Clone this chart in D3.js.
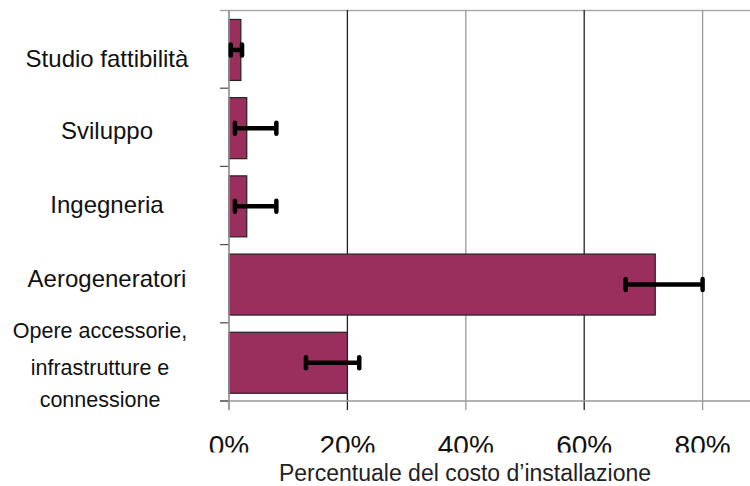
<!DOCTYPE html>
<html>
<head>
<meta charset="utf-8">
<script src="https://cdn.jsdelivr.net/npm/d3@7"></script>
<style>
  body { margin: 0; background: #fff; }
  svg { display: block; font-family: "Liberation Sans", Arial, sans-serif; }
</style>
</head>
<body>
<div id="chart"></div>
<script>

// data (percent of installation cost)
var categories = ["Studio fattibilità", "Sviluppo", "Ingegneria", "Aerogeneratori",
    "Opere accessorie, infrastrutture e connessione"];
var values  = [2, 3, 3, 72, 20];
var errLow  = [0.3, 1, 1, 67, 13];
var errHigh = [2.2, 8, 8, 80, 22];
var xTicks  = [0, 20, 40, 60, 80];
var xTickLabels = ["0%", "20%", "40%", "60%", "80%"];
var labelLines = [["Studio fattibilità"], ["Sviluppo"], ["Ingegneria"], ["Aerogeneratori"],
    ["Opere accessorie,", "infrastrutture e", "connessione"]];
var axisTitle = "Percentuale del costo d\u2019installazione";

var full_width = 750;
var full_height = 486;

var svg = d3.select("#chart")
    .append("svg")
    .attr("width", full_width)
    .attr("height", full_height);

// plot area runs past the right edge (the original picture is cropped)
var x = d3.scaleLinear().domain([0, 100]).range([229, 821]);
var y = d3.scaleBand().domain(categories).range([10, 401])
    .paddingInner(0.22).paddingOuter(0.11).align(0.55);

var gridColor = ["#999", "#222", "#999", "#222", "#999"];

// top border
svg.append("line")
    .attr("x1", 220).attr("x2", x(100))
    .attr("y1", y.range()[0] + 0.5).attr("y2", y.range()[0] + 0.5)
    .attr("stroke", "#aaa").attr("stroke-width", 1.5);

// vertical grid lines + x ticks
svg.selectAll(".grid")
    .data(xTicks)
    .enter().append("line")
    .attr("class", "grid")
    .attr("x1", function(d){ return x(d); })
    .attr("x2", function(d){ return x(d); })
    .attr("y1", y.range()[0])
    .attr("y2", y.range()[1] + 9)
    .attr("stroke", function(d, i){ return gridColor[i]; })
    .attr("stroke-width", 1.3);

// bottom axis line
svg.append("line")
    .attr("x1", 220).attr("x2", x(100))
    .attr("y1", y.range()[1]).attr("y2", y.range()[1])
    .attr("stroke", "#999").attr("stroke-width", 1.3);

// category boundary ticks on the left
var bounds = d3.range(categories.length + 1).map(function(i){ return y.range()[0] + i * y.step(); });
svg.selectAll(".ytick")
    .data(bounds.slice(1))
    .enter().append("line")
    .attr("x1", 220).attr("x2", x(0))
    .attr("y1", function(d){ return d; })
    .attr("y2", function(d){ return d; })
    .attr("stroke", "#555").attr("stroke-width", 1.3);

// bars
svg.selectAll(".bar")
    .data(values)
    .enter().append("rect")
    .attr("class", "bar")
    .attr("x", x(0))
    .attr("y", function(d, i){ return y(categories[i]); })
    .attr("width", function(d){ return x(d) - x(0); })
    .attr("height", y.bandwidth())
    .attr("fill", "#9a2f5d")
    .attr("stroke", "#222")
    .attr("stroke-width", 1.2);

// left axis line (drawn over the bars' left edge)
svg.append("line")
    .attr("x1", x(0)).attr("x2", x(0))
    .attr("y1", y.range()[0]).attr("y2", y.range()[1] + 9)
    .attr("stroke", "#999").attr("stroke-width", 1.5);

// error bars
var err = svg.selectAll(".err")
    .data(values)
    .enter().append("g")
    .attr("class", "err")
    .attr("transform", function(d, i){
        return "translate(0," + (y(categories[i]) + y.bandwidth() / 2) + ")";
    });

err.append("line")
    .attr("x1", function(d, i){ return x(errLow[i]); })
    .attr("x2", function(d, i){ return x(errHigh[i]); })
    .attr("stroke", "#000").attr("stroke-width", 4.5);

err.selectAll(".cap")
    .data(function(d, i){ return [errLow[i], errHigh[i]]; })
    .enter().append("line")
    .attr("x1", function(d){ return x(d); })
    .attr("x2", function(d){ return x(d); })
    .attr("y1", -5.5).attr("y2", 5.5)
    .attr("stroke", "#000").attr("stroke-width", 4.5)
    .attr("stroke-linecap", "round");

// category labels (baseline offsets from the band centre)
var labelDy = [17, 11, 6.5, 2.5, 0];
var multiDy = [-25, 12, 44.5];

svg.selectAll(".cat")
    .data(labelLines)
    .enter().append("text")
    .attr("class", "cat")
    .attr("text-anchor", "middle")
    .style("fill", "#111")
    .each(function(lines, i){
        var cy = y(categories[i]) + y.bandwidth() / 2;
        var t = d3.select(this);
        if (lines.length === 1) {
            t.attr("x", 107).attr("y", cy + labelDy[i])
                .style("font-size", "24px").text(lines[0]);
        } else {
            t.style("font-size", "21.5px");
            t.selectAll("tspan").data(lines).enter().append("tspan")
                .attr("x", 100)
                .attr("y", function(d, j){ return cy + multiDy[j]; })
                .text(function(d){ return d; });
        }
    });

// x tick labels (bottom of them is cut off in the original)
svg.selectAll(".xlab")
    .data(xTicks)
    .enter().append("text")
    .attr("class", "xlab")
    .attr("x", function(d){ return x(d); })
    .attr("y", 455)
    .attr("text-anchor", "middle")
    .style("font-size", "28px")
    .style("fill", "#111")
    .text(function(d, i){ return xTickLabels[i]; });

svg.append("rect")
    .attr("x", 0).attr("y", 452.5)
    .attr("width", full_width).attr("height", full_height - 452.5)
    .attr("fill", "#fff");

svg.append("text")
    .attr("x", 465)
    .attr("y", 481)
    .attr("text-anchor", "middle")
    .style("font-size", "23px")
    .style("fill", "#222")
    .text(axisTitle);

</script>
</body>
</html>
